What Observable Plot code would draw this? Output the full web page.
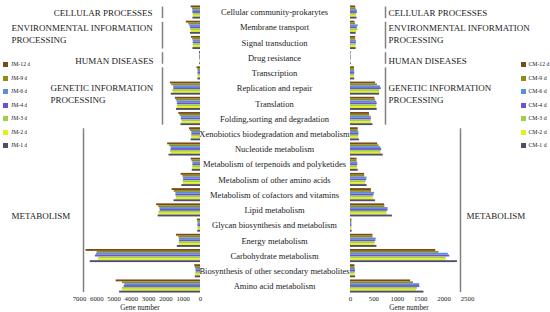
<!DOCTYPE html>
<html><head><meta charset="utf-8">
<script src="https://cdn.jsdelivr.net/npm/d3@7"></script>
<script src="https://cdn.jsdelivr.net/npm/@observablehq/plot@0.6"></script>
<style>
body{margin:0;background:#fff;}
#chart{position:relative;width:550px;height:312px;overflow:hidden;background:#fff;}
#chart > *{position:absolute;left:0;top:0;}
</style></head><body><div id="chart"></div>
<script>
const categories = [
  "Cellular community-prokarytes","Membrane transport","Signal transduction","Drug resistance",
  "Transcription","Replication and repair","Translation","Folding,sorting and degradation",
  "Xenobiotics biodegradation and metabolism","Nucleotide metabolism",
  "Metabolism of terpenoids and polyketides","Metabolism of other amino acids",
  "Metabolism of cofactors and vitamins","Lipid metabolism","Glycan biosynthesis and metabolism",
  "Energy metabolism","Carbohydrate metabolism","Biosynthesis of other secondary metabolites",
  "Amino acid metabolism"
];
const days = ["12 d","9 d","6 d","4 d","3 d","2 d","1 d"];

// JM series (gene number), category order as above
const jm12 = [540,820,520,60,200,1740,1450,1250,640,1900,540,1120,1640,2540,180,1390,6620,330,4880];
const jm9  = [460,680,450,40,150,1660,1400,1180,590,1780,490,1020,1520,2420,150,1260,5980,300,4520];
const jm6  = [440,620,420,50,140,1550,1340,1110,500,1700,440,980,1420,2350,150,1220,6020,260,4380];
const jm4  = [440,580,420,50,140,1540,1340,1110,500,1700,440,980,1420,2330,150,1220,6080,260,4420];
const jm3  = [420,560,420,40,140,1600,1320,1070,510,1740,450,1000,1400,2400,140,1230,5880,280,4520];
const jm2  = [420,540,420,40,140,1590,1320,1070,510,1680,450,990,1400,2400,140,1230,5900,280,4520];
const jm1  = [440,580,440,50,150,1690,1390,1130,540,1820,480,1080,1530,2450,160,1340,6380,300,4680];

// CM series
const cm12 = [110,95,110,12,85,535,520,405,165,580,140,300,445,730,30,480,1820,95,1285];
const cm9  = [120,110,110,12,85,575,535,410,165,610,140,305,450,735,30,480,1890,95,1345];
const cm6  = [145,165,125,15,90,640,560,445,180,650,155,355,515,805,30,550,2090,105,1480];
const cm4  = [145,145,125,15,90,655,570,445,180,665,155,345,500,800,30,540,2120,105,1480];
const cm3  = [130,160,120,14,85,625,555,440,175,650,150,325,485,775,30,520,2050,100,1430];
const cm2  = [125,140,115,14,85,625,555,445,175,660,150,325,485,785,30,525,2035,100,1410];
const cm1  = [140,120,120,16,90,620,570,480,190,700,165,355,535,895,35,565,2285,110,1570];

const jmTicks = [0,1000,2000,3000,4000,5000,6000,7000];
const cmTicks = [0,500,1000,1500,2000,2500];

const groupNames = ["CELLULAR PROCESSES","ENVIRONMENTAL INFORMATION\nPROCESSING","HUMAN DISEASES","GENETIC INFORMATION\nPROCESSING","METABOLISM"];
const groupSizes = [1,2,1,4,11];

const dayColors = ["#7b4a18","#8e8c1c","#5b8fd8","#6c52d8","#9fcf48","#e4ee1e","#4d4d6e"];

// ---------- derived tables ----------
function rows(seriesArrays) {
  return seriesArrays.flatMap((vals, k) => vals.map((value, i) => ({i, k, day: days[k], value})));
}
const jmRows = rows([jm12, jm9, jm6, jm4, jm3, jm2, jm1]);
const cmRows = rows([cm12, cm9, cm6, cm4, cm3, cm2, cm1]);

let start = 0;
const groups = groupNames.map((name, g) => {
  const first = start, last = start + groupSizes[g] - 1;
  start += groupSizes[g];
  return {name, g, first, last, mid: (first + last) / 2};
});

const groupFrac = 0.86, barStep = groupFrac / days.length;
const W = 550, H = 312, mTop = 4.4, mBottom = 18.4;
const font = "'Liberation Serif', 'Times New Roman', serif";
const ink = "#1a1a1a", bracket = "#808080";

const barOpts = {
  x1: 0, x2: "value",
  y1: d => d.i - groupFrac / 2 + d.k * barStep,
  y2: d => d.i - groupFrac / 2 + (d.k + 1) * barStep,
  fill: "day"
};
const yOpts = {domain: [-0.5, categories.length - 0.5], reverse: true, axis: null};
const colorOpts = {type: "ordinal", domain: days, range: dayColors};

// layout of group annotations (pixel x, label dy)
const leftLabel = [
  {anchor: "end", px: 152, dy: 0},
  {anchor: "start", px: 11, dy: -2.3},
  {anchor: "end", px: 153, dy: 2.3},
  {anchor: "start", px: 50, dy: -3.2},
  {anchor: "start", px: 11, dy: 5}
];
const rightLabelPx = [388, 388, 388, 388, 466];
const leftZero = 200, rightZero = 350;

const groupTextMarks = (zero, side) => groups.map(gr => {
  const L = side === "left" ? leftLabel[gr.g] : {anchor: "start", px: rightLabelPx[gr.g], dy: leftLabel[gr.g].dy};
  return Plot.text([gr], {
    x: 0, y: d => d.mid, text: d => d.name,
    dx: L.px - zero, dy: L.dy, textAnchor: L.anchor,
    lineAnchor: "middle", lineHeight: 1.3, fontSize: 9, fill: ink
  });
});
const bracketMarks = (zero, pxTop, pxMeta) => [
  Plot.ruleX(groups.filter(d => d.name !== "METABOLISM"), {
    x: 0, y1: d => d.first - 0.36, y2: d => d.last + 0.4, dx: pxTop - zero,
    stroke: bracket, strokeWidth: 1.5
  }),
  Plot.ruleX(groups.filter(d => d.name === "METABOLISM"), {
    x: 0, y1: d => d.first - 0.36, y2: d => d.last + 0.4, dx: pxMeta - zero,
    stroke: bracket, strokeWidth: 1.5
  })
];

const axisMarks = (ticks) => [
  Plot.axisX({
    ticks, tickSize: 0, tickPadding: 2.5, tickFormat: d3.format("d"),
    label: null, fontSize: 6.8, fill: ink
  }),
  Plot.axisX({
    ticks: [], tickSize: 0,
    label: "Gene number", labelAnchor: "center", labelArrow: "none",
    fontSize: 7.3, fill: ink
  })
];

const leftPlot = Plot.plot({
  width: W, height: H,
  marginLeft: 79, marginRight: W - leftZero, marginTop: mTop, marginBottom: mBottom,
  style: {fontFamily: font, background: "transparent", color: ink},
  x: {domain: [7000, 0], axis: null},
  y: yOpts,
  color: colorOpts,
  marks: [
    Plot.rect(jmRows, barOpts),
    ...axisMarks(jmTicks),
    Plot.text(categories, {x: 0, y: (d, i) => i, text: d => d, dx: 74, fontSize: 8.5, fill: ink}),
    ...bracketMarks(leftZero, 162, 83),
    ...groupTextMarks(leftZero, "left")
  ]
});

const rightPlot = Plot.plot({
  width: W, height: H,
  marginLeft: rightZero, marginRight: W - 467, marginTop: mTop, marginBottom: mBottom,
  style: {fontFamily: font, background: "transparent", color: ink},
  x: {domain: [0, 2500], axis: null},
  y: yOpts,
  color: colorOpts,
  marks: [
    Plot.rect(cmRows, barOpts),
    ...axisMarks(cmTicks),
    ...bracketMarks(rightZero, 385, 460),
    ...groupTextMarks(rightZero, "right")
  ]
});

const legendStyle = (left) => ({
  fontFamily: font, fontSize: "5.8px", lineHeight: "12.5px",
  position: "absolute", left, top: "58.3px", width: "40px", margin: "0", color: ink
});
const jmLegend = Plot.legend({
  color: {type: "ordinal", domain: days.map(d => "JM-" + d), range: dayColors},
  legend: "swatches", columns: 1, swatchSize: 5, style: legendStyle("3px")
});
const cmLegend = Plot.legend({
  color: {type: "ordinal", domain: days.map(d => "CM-" + d), range: dayColors},
  legend: "swatches", columns: 1, swatchSize: 5, style: legendStyle("520.5px")
});

const chart = document.getElementById("chart");
chart.append(leftPlot, rightPlot, jmLegend, cmLegend);
</script>
</body></html>
